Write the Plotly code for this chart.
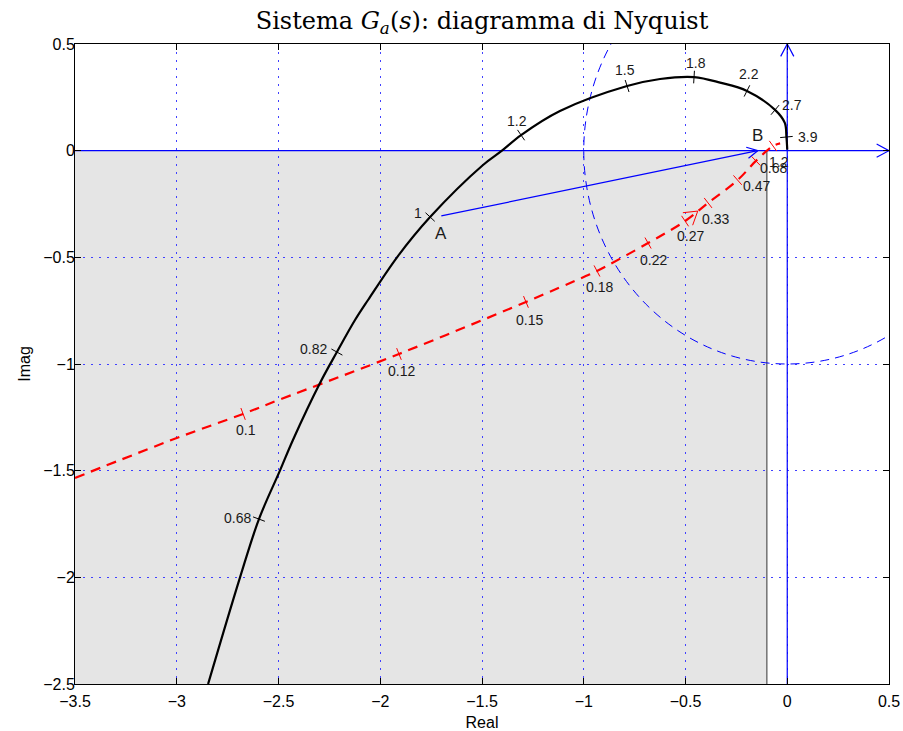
import math
import plotly.graph_objects as go

# ---------------- data ----------------
x_range = [-3.5, 0.5]
y_range = [-2.5, 0.5]
x_ticks = [-3.5, -3, -2.5, -2, -1.5, -1, -0.5, 0, 0.5]
y_ticks = [-2.5, -2, -1.5, -1, -0.5, 0, 0.5]

# Nyquist curve of G_a (black)
black_x = [-2.846, -2.689, -2.596, -2.493, -2.429, -2.296, -2.213, -2.124, -2.060, -1.913,
           -1.755, -1.495, -1.402, -1.308, -1.117, -0.787, -0.625, -0.458, -0.330,
           -0.198, -0.060, -0.012, -0.004, 0.0]
black_y = [-2.5, -2.0, -1.727, -1.5, -1.356, -1.089, -0.944, -0.794, -0.700, -0.494,
           -0.311, -0.067, 0.0, 0.073, 0.186, 0.303, 0.336, 0.345, 0.319,
           0.280, 0.191, 0.130, 0.064, 0.005]
black_w_labels = ["0.68", "0.82", "1", "1.2", "1.5", "1.8", "2.2", "2.7", "3.9"]
black_w_x = [-2.596, -2.213, -1.755, -1.308, -0.787, -0.458, -0.198, -0.060, -0.004]
black_w_y = [-1.727, -0.944, -0.311, 0.073, 0.303, 0.345, 0.280, 0.191, 0.064]

# second curve (red dashed)
red_x = [-3.5, -3.0, -2.674, -2.5, -1.908, -1.284, -1.0, -0.935, -0.684, -0.502,
         -0.389, -0.244, -0.154, -0.070, -0.035]
red_y = [-1.534, -1.347, -1.234, -1.169, -0.953, -0.709, -0.592, -0.564, -0.433, -0.330,
         -0.245, -0.138, -0.048, 0.022, 0.034]
red_w_labels = ["0.1", "0.12", "0.15", "0.18", "0.22", "0.27", "0.33", "0.47", "0.68", "1.2"]
red_w_x = [-2.674, -1.908, -1.284, -0.935, -0.684, -0.502, -0.389, -0.244, -0.154, -0.070]
red_w_y = [-1.234, -0.953, -0.709, -0.564, -0.433, -0.330, -0.245, -0.138, -0.048, 0.022]

point_A = [-1.70, -0.306]
point_B = [-0.145, 0.0]
circle_radius = 1.0
shade_x = [-3.5, -0.1]
shade_y = [-2.5, 0.0]

# ---------------- layout geometry / styles ----------------
W, H = 903, 731
ML, MR, MT, MB = 75, 14, 44, 47
SX = (W - ML - MR) / (x_range[1] - x_range[0])
SY = (H - MT - MB) / (y_range[1] - y_range[0])

# (xanchor, xshift px, yshift px) for frequency labels
black_label_style = [("right", -6, 1.5), ("right", -8, 3), ("right", -6, 4), ("center", -4, 14),
                     ("center", -2.5, 16), ("center", 1.5, 14.5), ("center", 2.5, 16.5),
                     ("left", 5, 4.5), ("left", 10, 0.5)]
red_label_style = [("center", 3, -16.5), ("center", 3, -17.5), ("center", 4, -18),
                   ("center", 3, -16.5), ("center", 5, -16.5), ("center", 5.5, -15),
                   ("center", 7.5, -16), ("center", 19, -6), ("center", 18, -7.5),
                   ("center", 5.5, -16)]

BLUE = "#0000ff"
RED = "#ff0000"
LBLFONT = dict(family="Liberation Sans, Arial, sans-serif", size=14, color="#1a1a1a")


def tangent_deg(cx, cy, px, py):
    best = min(range(len(cx)), key=lambda i: (cx[i] - px) ** 2 + (cy[i] - py) ** 2)
    i0 = max(best - 1, 0)
    i1 = min(best + 1, len(cx) - 1)
    dx = (cx[i1] - cx[i0]) * SX
    dy = (cy[i1] - cy[i0]) * SY
    return math.degrees(math.atan2(dy, dx))


def arrow_head(tip, theta_deg, length, half_deg):
    xs, ys = [], []
    for s in (1, -1):
        a = math.radians(theta_deg + 180 + s * half_deg)
        xs.append(tip[0] + length * math.cos(a) / SX)
        ys.append(tip[1] + length * math.sin(a) / SY)
    return [xs[0], tip[0], xs[1]], [ys[0], tip[1], ys[1]]


fig = go.Figure()

# shaded region
fig.add_shape(type="rect", xref="x", yref="y", x0=shade_x[0], x1=shade_x[1], y0=shade_y[0], y1=shade_y[1],
              fillcolor="#e5e5e5", line=dict(width=0), layer="below")
fig.add_shape(type="line", xref="x", yref="y", x0=shade_x[1], x1=shade_x[1], y0=shade_y[0], y1=shade_y[1],
              line=dict(color="#333333", width=1), layer="below")

# unit circle
fig.add_shape(type="circle", xref="x", yref="y", x0=-circle_radius, x1=circle_radius,
              y0=-circle_radius, y1=circle_radius,
              line=dict(color=BLUE, width=1, dash="9px,6px"), layer="between")

# axes lines with arrows
fig.add_trace(go.Scatter(x=[x_range[0], x_range[1]], y=[0, 0], mode="lines",
                         line=dict(color=BLUE, width=1.2), hoverinfo="skip"))
fig.add_trace(go.Scatter(x=[0, 0], y=[y_range[0], y_range[1]], mode="lines",
                         line=dict(color=BLUE, width=1.2), hoverinfo="skip"))
ax, ay = arrow_head((x_range[1], 0), 0, 14, 28)
fig.add_trace(go.Scatter(x=ax, y=ay, mode="lines", line=dict(color=BLUE, width=1.2), hoverinfo="skip"))
ax, ay = arrow_head((0, y_range[1]), 90, 14, 28)
fig.add_trace(go.Scatter(x=ax, y=ay, mode="lines", line=dict(color=BLUE, width=1.2), hoverinfo="skip"))

# A -> B vector
fig.add_trace(go.Scatter(x=[point_A[0], point_B[0]], y=[point_A[1], point_B[1]], mode="lines",
                         line=dict(color=BLUE, width=1.2), hoverinfo="skip"))
th = math.degrees(math.atan2((point_B[1] - point_A[1]) * SY, (point_B[0] - point_A[0]) * SX))
ax, ay = arrow_head(point_B, th, 12, 28)
fig.add_trace(go.Scatter(x=ax, y=ay, mode="lines", line=dict(color=BLUE, width=1.2), hoverinfo="skip"))

# red dashed curve
fig.add_trace(go.Scatter(x=red_x, y=red_y, mode="lines", line=dict(color=RED, width=2.2, dash="10px,7px",
                                                                    shape="spline", smoothing=1.0),
                         hoverinfo="skip"))
red_ang = [-tangent_deg(red_x, red_y, x, y) - 90 for x, y in zip(red_w_x, red_w_y)]
fig.add_trace(go.Scatter(x=red_w_x, y=red_w_y, mode="markers",
                         marker=dict(symbol="line-ew", size=9, angle=red_ang,
                                     line=dict(color=RED, width=1)), hoverinfo="skip"))
# direction arrow on red curve (between 0.27 and 0.33)
f = 0.55
tip = (red_w_x[5] + f * (red_w_x[6] - red_w_x[5]), red_w_y[5] + f * (red_w_y[6] - red_w_y[5]))
th = math.degrees(math.atan2((red_w_y[6] - red_w_y[5]) * SY, (red_w_x[6] - red_w_x[5]) * SX))
ax, ay = arrow_head(tip, th, 15, 32)
fig.add_trace(go.Scatter(x=ax, y=ay, mode="lines", line=dict(color=RED, width=1), hoverinfo="skip"))

# black Nyquist curve
fig.add_trace(go.Scatter(x=black_x, y=black_y, mode="lines",
                         line=dict(color="black", width=2.2, shape="spline", smoothing=1.0),
                         hoverinfo="skip"))
blk_ang = [-tangent_deg(black_x, black_y, x, y) - 90 for x, y in zip(black_w_x, black_w_y)]
fig.add_trace(go.Scatter(x=black_w_x, y=black_w_y, mode="markers",
                         marker=dict(symbol="line-ew", size=9, angle=blk_ang,
                                     line=dict(color="black", width=1)), hoverinfo="skip"))

# frequency labels
annotations = []
for lab, x, y, (anc, xs, ys) in zip(black_w_labels, black_w_x, black_w_y, black_label_style):
    annotations.append(dict(x=x, y=y, xref="x", yref="y", text=lab, showarrow=False,
                            xanchor=anc, yanchor="middle", xshift=xs, yshift=ys, font=LBLFONT))
for lab, x, y, (anc, xs, ys) in zip(red_w_labels, red_w_x, red_w_y, red_label_style):
    annotations.append(dict(x=x, y=y, xref="x", yref="y", text=lab, showarrow=False,
                            xanchor=anc, yanchor="middle", xshift=xs, yshift=ys, font=LBLFONT))
ABFONT = dict(family="Liberation Sans, Arial, sans-serif", size=17, color="#1a1a1a")
annotations.append(dict(x=point_A[0], y=point_A[1], xref="x", yref="y", text="A", showarrow=False,
                        xanchor="center", yanchor="middle", yshift=-18, font=ABFONT))
annotations.append(dict(x=point_B[0], y=point_B[1], xref="x", yref="y", text="B", showarrow=False,
                        xanchor="center", yanchor="middle", yshift=15.5, font=ABFONT))

AXFONT = dict(family="Liberation Sans, Arial, sans-serif", size=16, color="black")
axis_common = dict(showline=True, linecolor="black", linewidth=1, mirror="ticks",
                   ticks="inside", ticklen=6, tickcolor="black", tickwidth=1,
                   showgrid=True, gridcolor="#4040ff", griddash="2px,6px", gridwidth=1,
                   zeroline=False, tickfont=AXFONT, automargin=False)

fig.update_layout(
    width=W, height=H,
    margin=dict(l=ML, r=MR, t=MT, b=MB, autoexpand=False),
    paper_bgcolor="white", plot_bgcolor="white",
    showlegend=False, hovermode=False,
    title=dict(text="Sistema <i>G<sub>a</sub></i>(<i>s</i>): diagramma di Nyquist",
               x=0.5, xref="paper", xanchor="center", y=1 - 21 / H, yref="container", yanchor="middle",
               font=dict(family="DejaVu Serif, Liberation Serif, serif", size=24, color="black")),
    xaxis=dict(range=x_range, tickvals=x_ticks, ticklabelstandoff=3,
               title=dict(text="Real", font=AXFONT, standoff=9), **axis_common),
    yaxis=dict(range=y_range, tickvals=y_ticks, ticklabelstandoff=-4,
               title=dict(text="Imag", font=AXFONT, standoff=8), **axis_common),
    annotations=annotations,
)

fig.write_html("out.html", config={"displayModeBar": False, "staticPlot": True},
               post_script="document.body.style.margin='0px';document.body.style.overflow='hidden';")
